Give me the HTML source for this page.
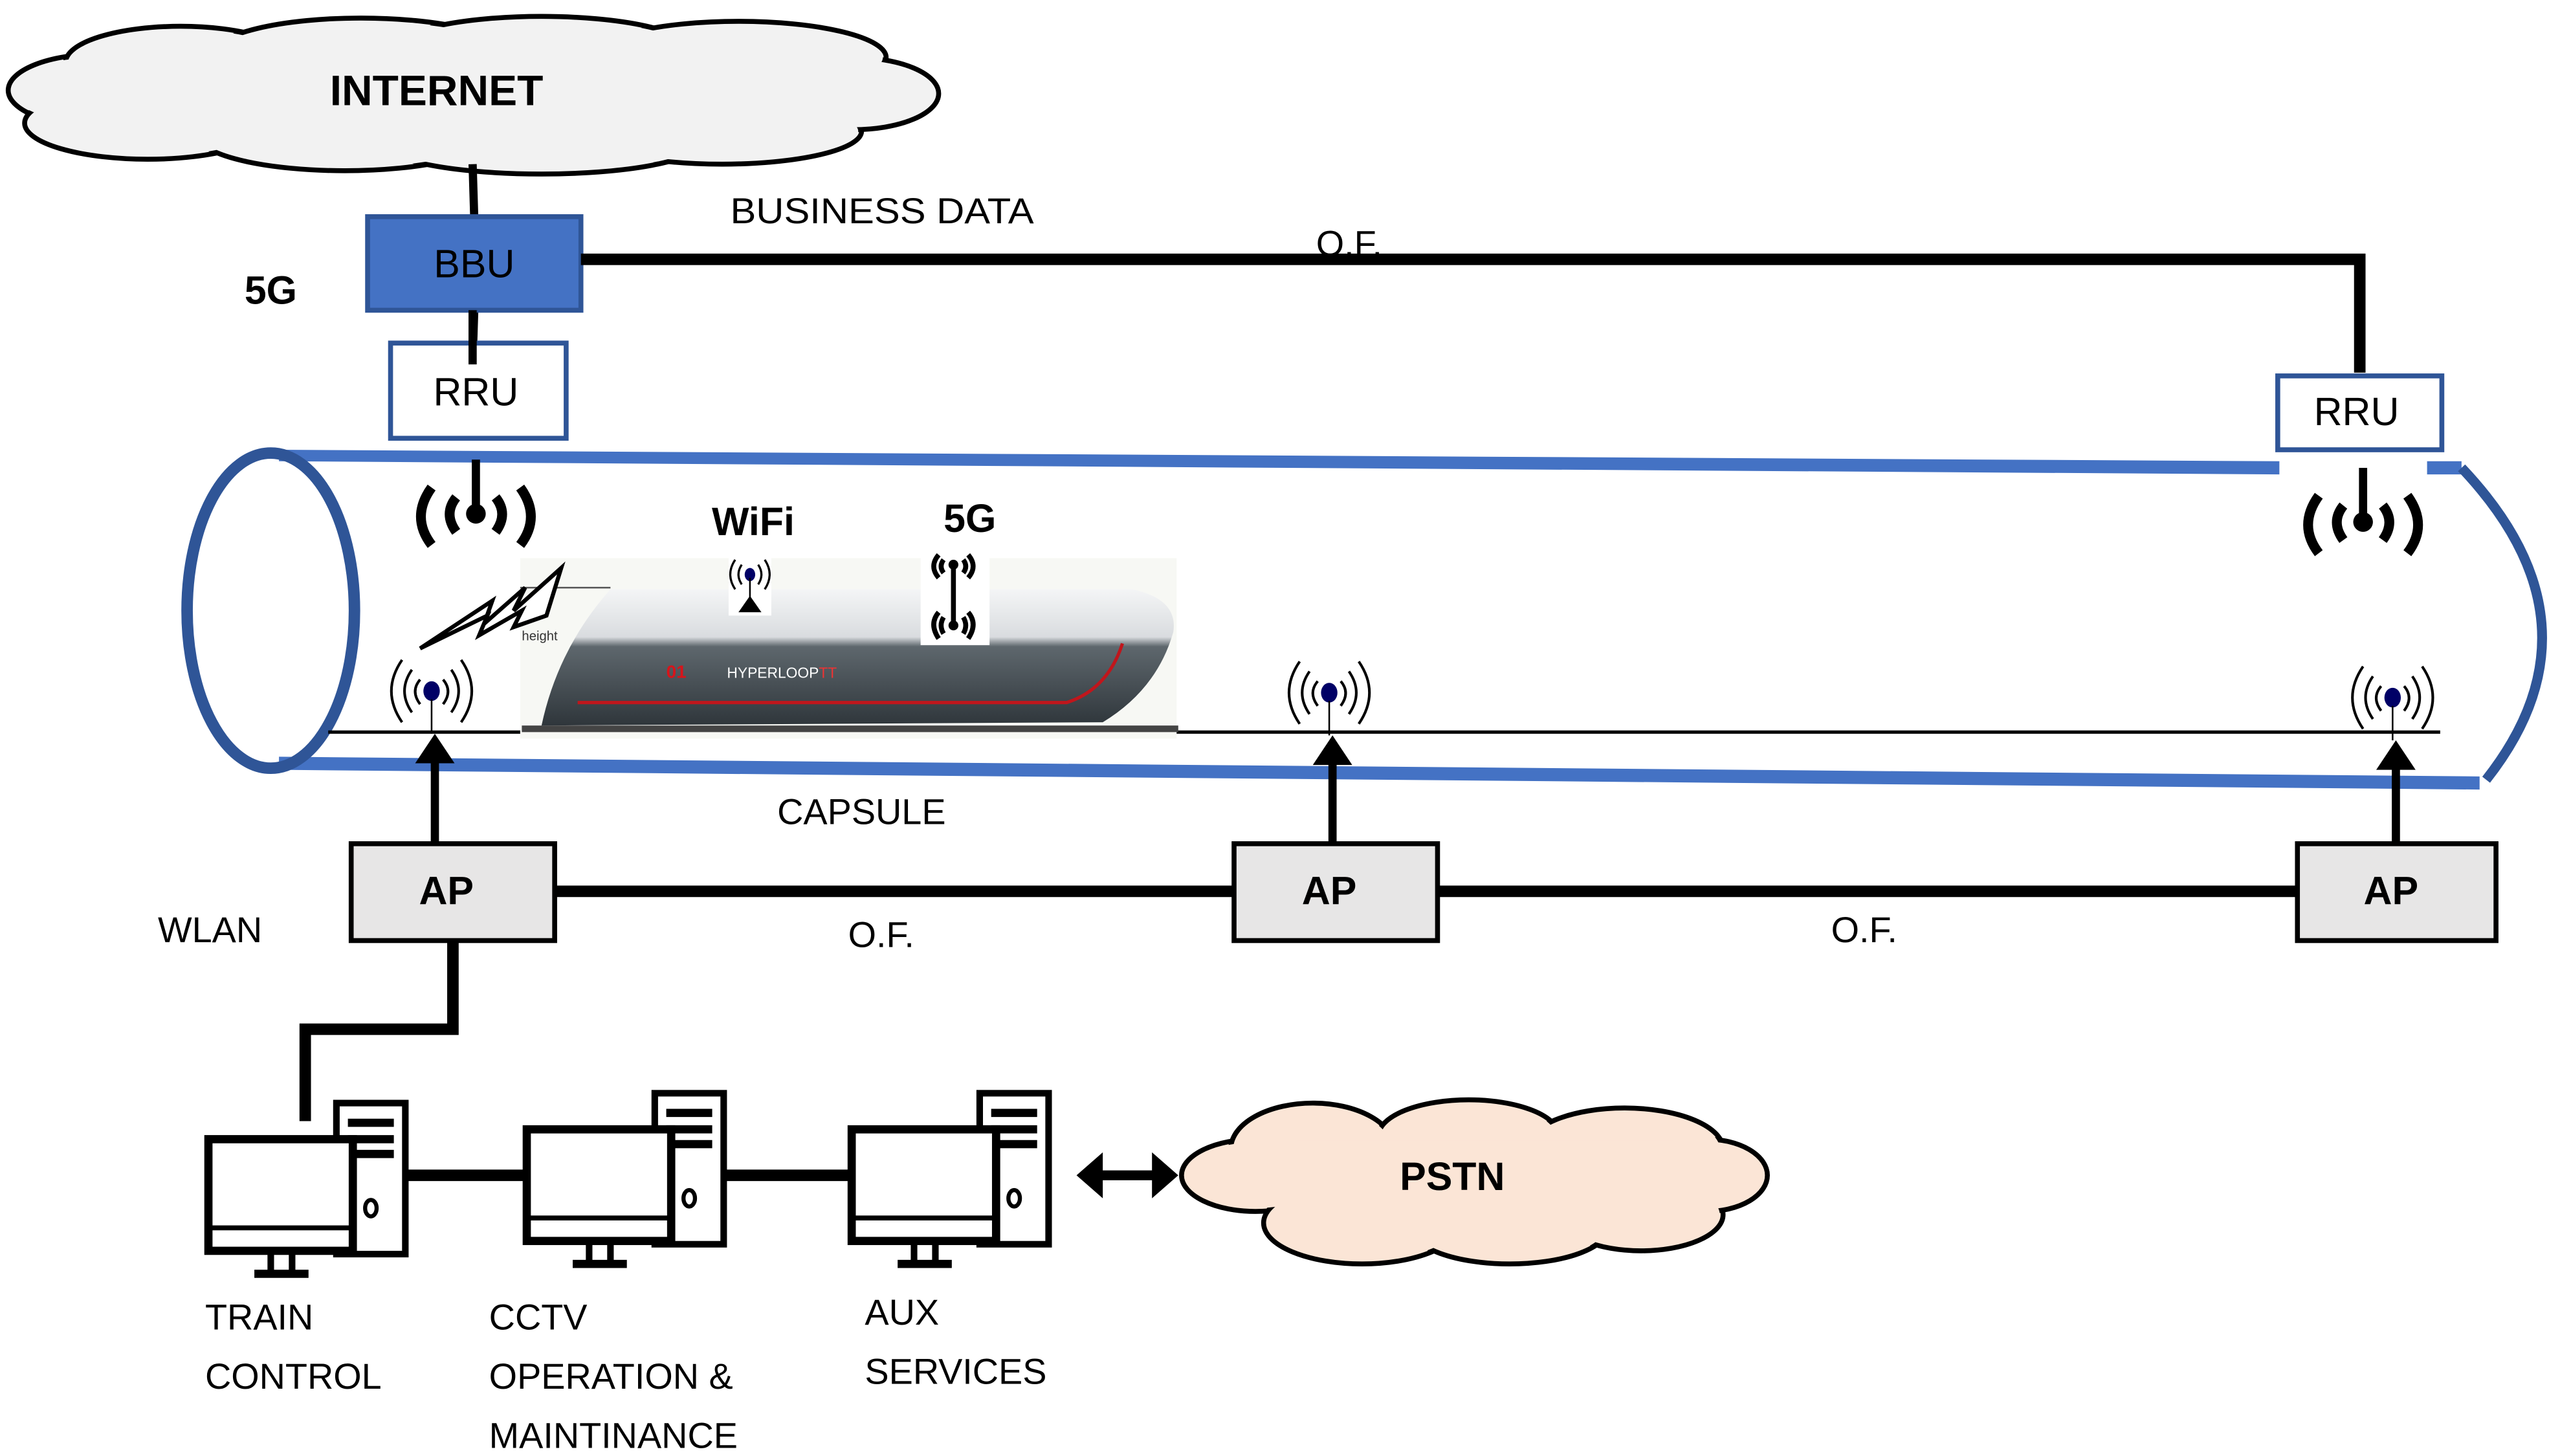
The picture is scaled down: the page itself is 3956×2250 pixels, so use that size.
<!DOCTYPE html>
<html><head><meta charset="utf-8"><style>
html,body{margin:0;padding:0;background:#fff;}
svg{display:block;}
text{font-family:"Liberation Sans",sans-serif;fill:#000;}
</style></head><body>
<svg width="3956" height="2250" viewBox="0 0 1560 887" preserveAspectRatio="none" xmlns="http://www.w3.org/2000/svg">
<defs>
<linearGradient id="tg" x1="0" y1="0" x2="0" y2="1">
<stop offset="0" stop-color="#f4f5f6"/><stop offset="0.35" stop-color="#d9dcdf"/><stop offset="0.42" stop-color="#5e676d"/><stop offset="1" stop-color="#2f363b"/>
</linearGradient>
</defs>
<!-- INTERNET cloud -->
<g stroke="#000" stroke-width="3" fill="#f2f2f2">
<ellipse cx="60" cy="55" rx="55" ry="22"/>
<ellipse cx="110" cy="38" rx="70" ry="22"/>
<ellipse cx="90" cy="75" rx="75" ry="22"/>
<ellipse cx="220" cy="33" rx="90" ry="22"/>
<ellipse cx="210" cy="82" rx="90" ry="22"/>
<ellipse cx="330" cy="30" rx="90" ry="20"/>
<ellipse cx="330" cy="88" rx="95" ry="18"/>
<ellipse cx="450" cy="35" rx="90" ry="22"/>
<ellipse cx="440" cy="80" rx="85" ry="20"/>
<ellipse cx="520" cy="57" rx="52" ry="22"/>
</g>
<g fill="#f2f2f2">
<ellipse cx="60" cy="55" rx="53" ry="20"/>
<ellipse cx="110" cy="38" rx="68" ry="20"/>
<ellipse cx="90" cy="75" rx="73" ry="20"/>
<ellipse cx="220" cy="33" rx="88" ry="20"/>
<ellipse cx="210" cy="82" rx="88" ry="20"/>
<ellipse cx="330" cy="30" rx="88" ry="18"/>
<ellipse cx="330" cy="88" rx="93" ry="16"/>
<ellipse cx="450" cy="35" rx="88" ry="20"/>
<ellipse cx="440" cy="80" rx="83" ry="18"/>
<ellipse cx="520" cy="57" rx="50" ry="20"/>
<rect x="80" y="40" width="420" height="40"/>
</g>
<text x="266" y="64" font-size="26" font-weight="bold" text-anchor="middle">INTERNET</text>

<!-- BBU / RRU -->
<line x1="288" y1="100" x2="289" y2="133" stroke="#000" stroke-width="5"/>
<line x1="289" y1="189" x2="288" y2="220" stroke="#000" stroke-width="5"/>
<rect x="224" y="132" width="130" height="57" fill="#4472c4" stroke="#2f5597" stroke-width="3"/>
<text x="289" y="169" font-size="24" text-anchor="middle">BBU</text>
<rect x="238" y="209" width="107" height="58" fill="#fff" stroke="#2f5597" stroke-width="3"/>
<line x1="288" y1="189" x2="288" y2="222" stroke="#000" stroke-width="5"/>
<text x="290" y="247" font-size="24" text-anchor="middle">RRU</text>
<text x="165" y="185" font-size="24" font-weight="bold" text-anchor="middle">5G</text>
<text x="445" y="136" font-size="22" textLength="185" lengthAdjust="spacingAndGlyphs">BUSINESS DATA</text>
<polyline points="354,158 1438,158 1438,227" fill="none" stroke="#000" stroke-width="7"/>
<text x="802" y="156" font-size="22">O.F.</text>
<rect x="1388" y="229" width="100" height="45" fill="#fff" stroke="#2f5597" stroke-width="3"/>
<text x="1436" y="259" font-size="24" text-anchor="middle">RRU</text>

<!-- Tube -->
<polygon points="170,274 1389,281 1389,289 170,281" fill="#4472c4"/>
<polygon points="1479,281 1500,281 1500,289 1479,289" fill="#4472c4"/>
<polygon points="170,461 1511,473 1511,481 170,469" fill="#4472c4"/>
<path d="M1500,285 Q1590,380 1515,475" fill="none" stroke="#2f5597" stroke-width="6"/>
<ellipse cx="165" cy="372" rx="51" ry="96" fill="none" stroke="#2f5597" stroke-width="7"/>
<line x1="200" y1="446" x2="1487" y2="446" stroke="#000" stroke-width="2"/>

<!-- Train -->
<rect x="317" y="340" width="400" height="110" fill="#f7f8f4"/>
<path d="M372,359 L690,359 Q718,365 715,385 Q705,420 672,440 L330,442 Q340,395 372,359 Z" fill="url(#tg)"/>
<path d="M352,428 L650,428 Q675,420 684,392" fill="none" stroke="#c0161c" stroke-width="2"/>
<rect x="318" y="442" width="400" height="4" fill="#444"/>
<line x1="317" y1="358" x2="372" y2="358" stroke="#555" stroke-width="1"/>
<text x="406" y="413" font-size="11" font-weight="bold" fill="#d8141a" style="fill:#d8141a">01</text>
<text x="443" y="413" font-size="9" style="fill:#fff">HYPERLOOP<tspan style="fill:#e33">TT</tspan></text>
<text x="318" y="390" font-size="8" style="fill:#333">height</text>
<!-- lightning -->
<polygon points="256,395 300,366 295,380 320,358 313,372 342,346 333,375 313,382 318,372 292,387 297,375" fill="#fff" stroke="#000" stroke-width="2.5"/>

<!-- WiFi / 5G labels -->
<text x="459" y="326" font-size="24" font-weight="bold" text-anchor="middle">WiFi</text>
<text x="591" y="324" font-size="24" font-weight="bold" text-anchor="middle">5G</text>
<rect x="444" y="337" width="26" height="38" fill="#fff"/>
<g fill="none" stroke="#000" stroke-width="1.3">
<path d="M452,344 Q448,350 452,356"/><path d="M448,341 Q442,350 448,359"/>
<path d="M462,344 Q466,350 462,356"/><path d="M466,341 Q472,350 466,359"/>
</g>
<ellipse cx="457" cy="350" rx="3.2" ry="4" fill="#000066"/>
<line x1="457" y1="352" x2="457" y2="364" stroke="#000" stroke-width="1"/>
<polygon points="457,363 450,373 464,373" fill="#000"/>
<rect x="561" y="333" width="42" height="60" fill="#fff"/>
<g fill="none" stroke="#000" stroke-width="3">
<line x1="581" y1="343" x2="581" y2="381"/>
<path d="M572,338 Q566,345 572,352"/><path d="M590,338 Q596,345 590,352"/>
<path d="M575,341 Q572,345 575,349"/><path d="M587,341 Q590,345 587,349"/>
<path d="M572,373 Q566,380 572,389"/><path d="M590,373 Q596,380 590,389"/>
<path d="M575,376 Q572,381 575,386"/><path d="M587,376 Q590,381 587,386"/>
</g>
<circle cx="581" cy="344" r="3" fill="#000"/><circle cx="581" cy="381" r="3" fill="#000"/>

<!-- RRU antennas (big black) -->
<g id="bigant">
<line x1="290" y1="280" x2="290" y2="312" stroke="#000" stroke-width="5"/>
<circle cx="290" cy="313" r="6" fill="#000"/>
<g fill="none" stroke="#000" stroke-width="6">
<path d="M278,303 Q270,313 278,324"/><path d="M302,303 Q310,313 302,324"/>
<path d="M263,297 Q250,315 263,332"/><path d="M317,297 Q330,315 317,332"/>
</g>
</g>
<use href="#bigant" transform="translate(1150,5)"/>

<!-- small AP antennas -->
<g id="smant">
<g fill="none" stroke="#000" stroke-width="1.6">
<path d="M256,414 Q250,421 256,429"/><path d="M270,414 Q276,421 270,429"/>
<path d="M251,408 Q242,421 251,434"/><path d="M275,408 Q284,421 275,434"/>
<path d="M245,402 Q232,421 245,440"/><path d="M281,402 Q294,421 281,440"/>
</g>
<ellipse cx="263" cy="421" rx="5" ry="6" fill="#000066"/>
<line x1="263" y1="426" x2="263" y2="447" stroke="#000" stroke-width="1"/>
<polygon points="265,447 253,465 277,465" fill="#000"/>
<line x1="265" y1="464" x2="265" y2="515" stroke="#000" stroke-width="5"/>
</g>
<use href="#smant" transform="translate(547,1)"/>
<use href="#smant" transform="translate(1195,4)"/>

<text x="525" y="502" font-size="22" text-anchor="middle">CAPSULE</text>

<!-- AP boxes -->
<line x1="338" y1="543" x2="1400" y2="543" stroke="#000" stroke-width="7"/>
<rect x="214" y="514" width="124" height="59" fill="#e7e6e6" stroke="#000" stroke-width="3"/>
<rect x="752" y="514" width="124" height="59" fill="#e7e6e6" stroke="#000" stroke-width="3"/>
<rect x="1400" y="514" width="121" height="59" fill="#e7e6e6" stroke="#000" stroke-width="3"/>
<text x="272" y="551" font-size="24" font-weight="bold" text-anchor="middle">AP</text>
<text x="810" y="551" font-size="24" font-weight="bold" text-anchor="middle">AP</text>
<text x="1457" y="551" font-size="24" font-weight="bold" text-anchor="middle">AP</text>
<text x="128" y="574" font-size="22" text-anchor="middle">WLAN</text>
<text x="537" y="577" font-size="22" text-anchor="middle">O.F.</text>
<text x="1136" y="574" font-size="22" text-anchor="middle">O.F.</text>
<polyline points="276,573 276,627 186,627 186,683" fill="none" stroke="#000" stroke-width="7"/>

<!-- computers -->
<line x1="240" y1="716" x2="540" y2="716" stroke="#000" stroke-width="7"/>
<g id="pc" fill="none" stroke="#000">
<rect x="205" y="672" width="42" height="92" fill="#fff" stroke-width="4"/>
<line x1="212" y1="684" x2="240" y2="684" stroke-width="5"/>
<line x1="212" y1="694" x2="240" y2="694" stroke-width="5"/>
<line x1="212" y1="703" x2="240" y2="703" stroke-width="5"/>
<ellipse cx="226" cy="736" rx="3.5" ry="5" stroke-width="2.5"/>
<rect x="127" y="694" width="88" height="68" fill="#fff" stroke-width="5"/>
<line x1="127" y1="748" x2="215" y2="748" stroke-width="3"/>
<line x1="165" y1="762" x2="165" y2="775" stroke-width="4"/>
<line x1="178" y1="762" x2="178" y2="775" stroke-width="4"/>
<line x1="155" y1="776" x2="188" y2="776" stroke-width="5"/>
</g>
<use href="#pc" transform="translate(194,-6)"/>
<use href="#pc" transform="translate(392,-6)"/>
<!-- double arrow -->
<line x1="668" y1="716" x2="705" y2="716" stroke="#000" stroke-width="6"/>
<polygon points="656,716 672,702 672,730" fill="#000"/>
<polygon points="718,716 702,702 702,730" fill="#000"/>

<!-- PSTN cloud -->
<g stroke="#000" stroke-width="3" fill="#fbe5d6">
<ellipse cx="765" cy="716" rx="45" ry="22"/>
<ellipse cx="800" cy="700" rx="50" ry="28"/>
<ellipse cx="830" cy="745" rx="60" ry="25"/>
<ellipse cx="895" cy="692" rx="55" ry="22"/>
<ellipse cx="920" cy="748" rx="60" ry="22"/>
<ellipse cx="990" cy="700" rx="60" ry="25"/>
<ellipse cx="1000" cy="740" rx="50" ry="22"/>
<ellipse cx="1040" cy="716" rx="37" ry="22"/>
</g>
<g fill="#fbe5d6">
<ellipse cx="765" cy="716" rx="43" ry="20"/>
<ellipse cx="800" cy="700" rx="48" ry="26"/>
<ellipse cx="830" cy="745" rx="58" ry="23"/>
<ellipse cx="895" cy="692" rx="53" ry="20"/>
<ellipse cx="920" cy="748" rx="58" ry="20"/>
<ellipse cx="990" cy="700" rx="58" ry="23"/>
<ellipse cx="1000" cy="740" rx="48" ry="20"/>
<ellipse cx="1040" cy="716" rx="35" ry="20"/>
<rect x="790" y="695" width="230" height="50"/>
</g>
<text x="885" y="725" font-size="24" font-weight="bold" text-anchor="middle">PSTN</text>

<!-- labels -->
<g font-size="22">
<text x="125" y="810">TRAIN</text>
<text x="125" y="846">CONTROL</text>
<text x="298" y="810">CCTV</text>
<text x="298" y="846">OPERATION &amp;</text>
<text x="298" y="882">MAINTINANCE</text>
<text x="527" y="807">AUX</text>
<text x="527" y="843">SERVICES</text>
</g>
</svg>
</body></html>
